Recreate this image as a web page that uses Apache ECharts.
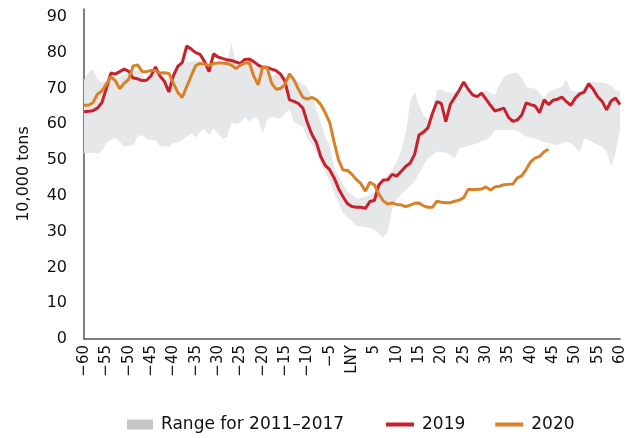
<!DOCTYPE html>
<html>
<head>
<meta charset="utf-8">
<title>Tonnage around Lunar New Year</title>
<script src="https://cdn.jsdelivr.net/npm/echarts@6/dist/echarts.min.js"></script>
<style>
  html, body { margin: 0; padding: 0; background: #fff; }
  #chart { width: 637px; height: 438px; }
</style>
</head>
<body>
<div id="chart"></div>
<script>
// days relative to Lunar New Year (LNY = 0)
const dayStart = -60;
const dayEnd = 60;
const days = [];
for (let d = dayStart; d <= dayEnd; d++) days.push(String(d));

// range for 2011-2017, lower and upper edge, day -60 .. 60
const rangeLow = [
  51.9, 51.9, 52.1, 51.7, 52.5, 54.7, 55.6, 56.1, 55.1, 53.7,
  53.9, 54.2, 56.5, 57.0, 55.8, 55.7, 55.6, 53.9, 53.8, 53.7,
  54.7, 55.0, 55.6, 56.5, 57.4, 56.3, 57.9, 58.5, 57.0, 58.8,
  57.5, 56.1, 56.3, 60.3, 60.1, 60.5, 62.1, 60.8, 62.0, 61.3,
  57.5, 61.3, 62.1, 61.8, 61.6, 63.0, 64.0, 60.8, 59.8, 59.4,
  56.1, 54.2, 52.3, 49.0, 46.5, 44.2, 40.7, 38.0, 35.1, 34.0,
  33.0, 31.6, 31.4, 31.2, 31.0, 30.5, 29.5, 28.2, 30.0, 36.5,
  39.0, 40.5, 41.6, 42.6, 44.0, 46.3, 48.5, 50.5, 51.5, 52.3,
  52.2, 52.1, 51.5, 50.5, 53.3, 53.5, 53.9, 54.3, 54.7, 55.3,
  55.6, 56.5, 58.4, 58.4, 58.4, 58.4, 58.4, 58.2, 57.5, 56.5,
  56.3, 56.1, 55.5, 55.0, 54.7, 54.4, 54.2, 54.7, 55.2, 54.8,
  53.5, 52.3, 56.1, 55.6, 55.0, 54.2, 53.7, 52.5, 48.2, 52.0,
  58.4
];
const rangeHigh = [
  72.4, 74.3, 75.4, 72.4, 71.9, 72.2, 72.6, 73.0, 73.3, 74.0,
  74.5, 75.0, 75.2, 74.0, 72.0, 73.0, 74.6, 74.0, 71.5, 73.0,
  74.3, 75.6, 76.5, 77.3, 77.6, 77.8, 77.5, 77.0, 76.6, 76.6,
  77.0, 76.8, 77.1, 82.8, 77.0, 77.2, 77.5, 77.6, 77.0, 76.6,
  76.5, 75.8, 73.3, 74.0, 74.4, 73.3, 73.0, 72.4, 72.0, 71.2,
  70.3, 67.5, 64.0, 60.5, 56.5, 54.0, 48.0, 45.5, 43.2, 41.2,
  40.4, 39.3, 39.3, 39.8, 40.4, 41.0, 42.0, 44.2, 45.8, 47.2,
  49.5, 52.5, 57.5, 66.0, 69.1, 65.4, 62.5, 61.5, 63.5, 69.5,
  69.8, 69.0, 68.7, 69.0, 69.1, 69.6, 70.1, 69.0, 68.0, 68.5,
  69.6, 68.7, 68.2, 71.0, 73.3, 74.0, 74.3, 74.3, 73.0, 70.5,
  70.1, 70.0, 68.5, 67.3, 69.1, 69.5, 70.0, 70.5, 72.4, 69.5,
  69.1, 69.1, 70.5, 71.9, 71.9, 71.8, 71.6, 71.4, 70.8, 69.6,
  69.0
];

// 2019, day -60 .. 60
const values2019 = [
  63.5, 63.6, 63.8, 64.5, 66.0, 70.0, 74.3, 74.0, 74.7, 75.4,
  74.8, 72.9, 72.7, 72.2, 72.3, 73.5, 76.0, 73.5, 72.0, 69.0,
  73.5, 76.2, 77.2, 81.9, 81.0, 80.0, 79.5, 77.5, 74.7, 79.7,
  78.8, 78.4, 78.0, 77.8, 77.4, 77.0, 78.1, 78.2, 77.5, 76.5,
  75.9, 75.9, 75.4, 75.0, 74.0, 72.0, 66.8, 66.4, 65.8, 64.5,
  60.5, 57.2, 55.0, 51.0, 48.5, 47.3, 45.0, 42.0, 39.7, 37.8,
  37.0, 36.8, 36.8, 36.5, 38.4, 38.7, 43.0, 44.4, 44.5, 46.0,
  45.5, 46.8, 48.2, 49.1, 51.5, 57.0, 57.8, 59.0, 63.0, 66.3,
  65.8, 60.7, 65.5, 67.5, 69.5, 71.8, 69.8, 68.2, 67.7, 68.7,
  67.0, 65.3, 63.7, 64.1, 64.5, 62.0, 60.8, 61.2, 62.6, 66.0,
  65.5, 65.1, 63.2, 66.8, 65.5, 66.7, 67.0, 67.6, 66.3, 65.3,
  67.3, 68.5, 69.0, 71.3, 69.8, 67.7, 66.4, 64.0, 66.5, 67.3,
  65.5
];

// 2020, day -60 .. 44
const values2020 = [
  65.3, 65.3, 66.0, 68.4, 69.3, 71.2, 73.3, 72.2, 69.9, 71.5,
  72.5, 76.3, 76.6, 74.7, 74.7, 75.0, 75.0, 74.3, 74.4, 74.2,
  71.5, 68.9, 67.5, 70.5, 73.5, 76.4, 77.0, 76.8, 76.3, 77.0,
  77.1, 77.1, 77.0, 76.5, 75.6, 76.5, 77.1, 77.2, 73.5, 71.0,
  76.0, 75.8, 71.5, 69.8, 70.0, 71.1, 74.1, 72.4, 69.8, 67.5,
  67.0, 67.5, 66.9, 65.5, 63.2, 60.5, 55.0, 50.0, 47.2, 47.1,
  46.0, 44.5, 43.4, 41.3, 43.8, 43.1, 40.5, 38.6, 37.7, 38.0,
  37.6, 37.5, 37.0, 37.4, 37.9, 38.0, 37.2, 36.8, 36.8, 38.5,
  38.2, 38.1, 38.1, 38.5, 38.8, 39.5, 41.8, 41.8, 41.8, 41.9,
  42.5, 41.6, 42.5, 42.7, 43.1, 43.2, 43.3, 45.0, 45.6, 47.4,
  49.5, 50.6, 51.0, 52.3, 53.0
];

const legendNames = ['Range for 2011\u20132017', '2019', '2020'];
const yAxisTitle = '10,000 tons';

const FONT = 'DejaVu Sans';
const RED = '#c9202d';
const ORANGE = '#d98129';
const BAND = '#e6e7e9';

// band drawn as a stack: transparent base + spread
const bandSpread = rangeHigh.map((v, i) => +(v - rangeLow[i]).toFixed(2));

const chart = echarts.init(document.getElementById('chart'), null, { renderer: 'canvas' });

const legendText = { fontFamily: FONT, fontSize: 17, color: '#111', padding: [0, 0, 0, 3] };

chart.setOption({
  animation: false,
  backgroundColor: '#fff',
  textStyle: { fontFamily: FONT },
  grid: { left: 84, right: 17, top: 9, bottom: 99 },
  legend: [
    {
      data: [{ name: legendNames[0], icon: 'rect', itemStyle: { color: '#c4c5c7' } }],
      left: 122, top: 411,
      itemWidth: 26, itemHeight: 10,
      textStyle: legendText
    },
    {
      data: [
        { name: legendNames[1], icon: 'rect' },
        { name: legendNames[2], icon: 'rect' }
      ],
      left: 381, top: 411,
      itemWidth: 28, itemHeight: 4, itemGap: 30,
      textStyle: legendText
    }
  ],
  xAxis: {
    type: 'category',
    data: days,
    boundaryGap: false,
    axisLine: { lineStyle: { color: '#555', width: 1.5 } },
    axisTick: { show: false },
    splitLine: { show: false },
    axisLabel: {
      interval: 4,
      rotate: 90,
      margin: 6,
      color: '#111',
      fontSize: 15,
      fontFamily: FONT,
      formatter: v => v === '0' ? 'LNY' : v.replace('-', '\u2212')
    }
  },
  yAxis: {
    type: 'value',
    min: 0, max: 92.2, interval: 10,
    name: yAxisTitle,
    nameLocation: 'middle',
    nameGap: 52,
    nameTextStyle: { fontFamily: FONT, fontSize: 16, color: '#111' },
    axisLine: { show: true, lineStyle: { color: '#555', width: 1.5 } },
    axisTick: { show: false },
    splitLine: { show: false },
    axisLabel: { color: '#111', fontSize: 16, fontFamily: FONT, margin: 17, showMaxLabel: false }
  },
  series: [
    {
      name: 'rangeBase',
      type: 'line',
      stack: 'band',
      data: rangeLow,
      symbol: 'none',
      lineStyle: { opacity: 0 },
      silent: true
    },
    {
      name: legendNames[0],
      type: 'line',
      stack: 'band',
      data: bandSpread,
      symbol: 'none',
      lineStyle: { opacity: 0 },
      areaStyle: { color: BAND, opacity: 1 },
      itemStyle: { color: '#c4c5c7' }
    },
    {
      name: legendNames[1],
      type: 'line',
      data: values2019,
      symbol: 'none',
      lineStyle: { color: RED, width: 3 },
      itemStyle: { color: RED }
    },
    {
      name: legendNames[2],
      type: 'line',
      data: values2020,
      symbol: 'none',
      lineStyle: { color: ORANGE, width: 3 },
      itemStyle: { color: ORANGE }
    }
  ]
});
</script>
</body>
</html>
